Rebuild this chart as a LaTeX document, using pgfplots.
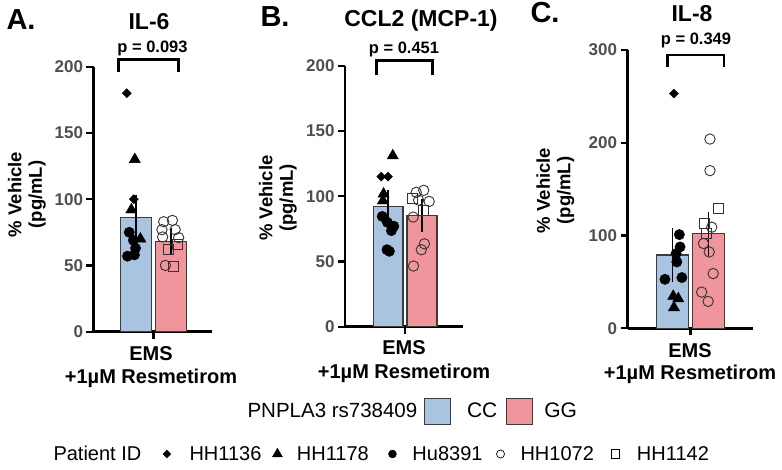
\documentclass[border=0pt]{standalone}
\usepackage{fontspec}
\setmainfont{Liberation Sans}
\usepackage{pgfplots}
\pgfplotsset{compat=1.18}

\definecolor{ccblue}{HTML}{A9C4E0}
\definecolor{ggpink}{HTML}{F0959B}
\definecolor{tickgray}{HTML}{4F4F4F}
\definecolor{edgegray}{HTML}{3C3C3C}
\newcommand{\fs}[1]{\fontsize{#1}{#1}\selectfont}

\pgfplotsset{
 panel/.style={
  scale only axis, anchor=south west,
  axis lines*=left,
  axis line style={line width=2.6pt, black},
  clip=false, ymin=0,
  xtick={0.5}, xticklabels={},
  tick align=outside,
  major tick length=7pt,
  every tick/.style={line width=2.2pt, black},
  yticklabel style={font=\bfseries\fs{17}, text=tickgray},
  /pgf/number format/assume math mode=true,
 },
 bar/.style={ybar, bar width=0.88, bar shift=0pt, draw=edgegray, line width=1.1pt},
 ebar/.style={draw=none, mark=none, forget plot,
   error bars/.cd, y dir=both, y explicit,
   error bar style={line width=1.6pt, draw=black},
   error mark options={mark size=8pt, line width=1.6pt, draw=black}},
 mdia/.style={only marks, mark=square*, mark size=3.2pt, mark options={rotate=45, draw=black, fill=black}},
 mtri/.style={only marks, mark=triangle*, mark size=6.5pt, mark options={draw=black, fill=black}},
 mcirc/.style={only marks, mark=*, mark size=5.2pt, mark options={draw=black, fill=black}},
 mocirc/.style={only marks, mark=o, mark size=5.2pt, mark options={draw=black!80, line width=0.9pt}},
 msq/.style={only marks, mark=square, mark size=5pt, mark options={draw=black!80, line width=0.9pt}},
 brk/.style={line width=2.8pt, black, mark=none},
 leg/.style={hide axis, scale only axis, width=1pt, height=1pt,
   xmin=0, xmax=1, ymin=0, ymax=1, anchor=south west,
   legend columns=-1,
   legend style={at={(0,0)}, anchor=west, draw=none, fill=none,
     inner sep=0pt, outer sep=0pt, nodes={inner sep=0pt, font=\fs{20}}}},
}

\begin{document}
\begin{tikzpicture}
\path[use as bounding box] (0,0) rectangle (782pt,469pt);

% ---------------- Panel A: IL-6
\begin{axis}[panel, at={(93.5pt,137.3pt)}, width=118pt, height=265pt,
  xmin=-1.227, xmax=2.164, ymax=200, ytick={0,50,100,150,200}]
\addplot[bar, fill=ccblue] coordinates {(0,86)};
\addplot[bar, fill=ggpink] coordinates {(1,68)};
\addplot[ebar] coordinates {(0,86) +- (0,11.5) (1,68) +- (0,4.3)};
\addplot[mdia] coordinates {(-0.27,180) (-0.07,100)};
\addplot[mtri] coordinates {(-0.04,130) (-0.14,92) (0.12,70)};
\addplot[mcirc] coordinates {(-0.2,75) (-0.08,69) (-0.02,63) (-0.25,57) (-0.05,58)};
\addplot[mocirc] coordinates {(0.79,83) (1.04,84) (0.74,77) (1.12,77) (0.76,71.5) (1.22,71) (0.84,50)};
\addplot[msq] coordinates {(0.94,62) (1.18,66) (1.08,49)};
\addplot[brk] coordinates {(-0.51,196) (-0.51,205.3) (1.22,205.3) (1.22,196)};
\end{axis}

% ---------------- Panel B: CCL2
\begin{axis}[panel, at={(345pt,142.3pt)}, width=118pt, height=261pt,
  xmin=-1.265, xmax=2.206, ymax=200, ytick={0,50,100,150,200}]
\addplot[bar, fill=ccblue] coordinates {(0,92)};
\addplot[bar, fill=ggpink] coordinates {(1,85.5)};
\addplot[ebar] coordinates {(0,92) +- (0,7) (1,85.5) +- (0,6.5)};
\addplot[mdia] coordinates {(-0.2,115) (0.0,115)};
\addplot[mtri] coordinates {(0.14,131) (-0.13,101.7) (-0.15,96.5)};
\addplot[mcirc] coordinates {(-0.17,84.5) (-0.02,80) (0.17,77) (0.1,73.6) (-0.03,59) (0.04,57.8)};
\addplot[mocirc] coordinates {(0.83,103) (1.05,104.5) (0.9,97) (1.21,96) (0.74,84) (1.07,63.5) (0.98,59) (0.75,46.5)};
\addplot[msq] coordinates {(0.73,98) (1.05,89)};
\addplot[brk] coordinates {(-0.34,193) (-0.34,203.8) (1.31,203.8) (1.31,193)};
\end{axis}

% ---------------- Panel C: IL-8
\begin{axis}[panel, at={(627.5pt,140.7pt)}, width=125.5pt, height=278.3pt,
  xmin=-1.25, xmax=2.236, ymax=300, ytick={0,100,200,300}]
\addplot[bar, fill=ccblue] coordinates {(0,79)};
\addplot[bar, fill=ggpink] coordinates {(1,102)};
\addplot[ebar] coordinates {(0,79) +- (0,20) (1,102) +- (0,15)};
\addplot[mdia] coordinates {(0.04,253)};
\addplot[mtri] coordinates {(0.02,34.5) (0.16,32) (0.04,22.3)};
\addplot[mcirc] coordinates {(0.19,101) (0.21,87.7) (0.1,80.6) (0.12,71.5) (-0.21,52.8) (0.26,54.7)};
\addplot[mocirc] coordinates {(1.04,204) (1.04,170) (1.09,109) (0.86,91.4) (1.02,82.3) (1.13,59) (0.81,39) (0.99,29)};
\addplot[msq] coordinates {(1.27,129) (0.9,113) (0.95,102)};
\addplot[brk] coordinates {(-0.15,282) (-0.15,294.6) (1.43,294.6) (1.43,282)};
\end{axis}

% ---------------- legend row 1
\node[anchor=base west, font=\fs{20.5}] at (244pt,52pt) {PNPLA3 rs738409};
\begin{axis}[leg, at={(424pt,58pt)},
  legend style={/tikz/column 1/.style={column sep=16pt},
                /tikz/column 2/.style={column sep=9pt},
                /tikz/column 3/.style={column sep=11pt},
                nodes={font=\fs{21}}}]
\addlegendimage{legend image code/.code={\draw[fill=ccblue, draw=edgegray, line width=1pt] (0pt,-13pt) rectangle (26pt,13pt);}}
\addlegendentry{CC}
\addlegendimage{legend image code/.code={\draw[fill=ggpink, draw=edgegray, line width=1pt] (0pt,-13pt) rectangle (26pt,13pt);}}
\addlegendentry{GG}
\end{axis}

% ---------------- legend row 2
\node[anchor=base west, font=\fs{20}] at (50pt,9pt) {Patient ID};
\begin{axis}[leg, at={(162.8pt,15pt)},
  legend style={/tikz/column 1/.style={column sep=18.8pt},
                /tikz/column 2/.style={column sep=11pt},
                /tikz/column 3/.style={column sep=14.5pt},
                /tikz/column 4/.style={column sep=19.6pt},
                /tikz/column 5/.style={column sep=16pt},
                /tikz/column 6/.style={column sep=14pt},
                /tikz/column 7/.style={column sep=16pt},
                /tikz/column 8/.style={column sep=17pt},
                /tikz/column 9/.style={column sep=17.5pt}}]
\addlegendimage{legend image code/.code={\draw plot[only marks, mark=square*, mark size=2.8pt, mark options={rotate=45, draw=black, fill=black}] coordinates {(0pt,0pt)};}}
\addlegendentry{HH1136}
\addlegendimage{legend image code/.code={\draw plot[only marks, mark=triangle*, mark size=5.8pt, mark options={draw=black, fill=black}] coordinates {(0pt,0pt)};}}
\addlegendentry{HH1178}
\addlegendimage{legend image code/.code={\draw plot[only marks, mark=*, mark size=4pt, mark options={draw=black, fill=black}] coordinates {(0pt,0pt)};}}
\addlegendentry{Hu8391}
\addlegendimage{legend image code/.code={\draw plot[only marks, mark=o, mark size=4pt, mark options={draw=black, line width=0.7pt}] coordinates {(0pt,0pt)};}}
\addlegendentry{HH1072}
\addlegendimage{legend image code/.code={\draw plot[only marks, mark=square, mark size=4.3pt, mark options={draw=black, line width=0.7pt}] coordinates {(0pt,0pt)};}}
\addlegendentry{HH1142}
\end{axis}

% ---------------- titles and labels
\node[anchor=base west, font=\bfseries\fs{29}] at (3pt,439pt) {A.};
\node[anchor=base, font=\bfseries\fs{23}] at (149pt,439pt) {IL-6};
\node[anchor=base west, font=\bfseries\fs{29}] at (257pt,442.5pt) {B.};
\node[anchor=base, font=\bfseries\fs{23}] at (421pt,442.5pt) {CCL2 (MCP-1)};
\node[anchor=base west, font=\bfseries\fs{29}] at (527pt,446pt) {C.};
\node[anchor=base, font=\bfseries\fs{23}] at (692pt,447pt) {IL-8};

\node[anchor=base, font=\bfseries\fs{16.5}] at (152.5pt,416pt) {p = 0.093};
\node[anchor=base, font=\bfseries\fs{16.5}] at (404pt,415pt) {p = 0.451};
\node[anchor=base, font=\bfseries\fs{16.5}] at (696pt,424pt) {p = 0.349};

\node[rotate=90, align=center, font=\bfseries\fontsize{18.5}{20.5}\selectfont] at (27pt,274.5pt) {\% Vehicle\\(pg/mL)};
\node[rotate=90, align=center, font=\bfseries\fontsize{18.5}{20.5}\selectfont] at (278pt,271pt) {\% Vehicle\\(pg/mL)};
\node[rotate=90, align=center, font=\bfseries\fontsize{18.5}{20.5}\selectfont] at (555.5pt,278.5pt) {\% Vehicle\\(pg/mL)};

\node[anchor=base, font=\bfseries\fs{20}] at (151pt,109pt) {EMS};
\node[anchor=base, font=\bfseries\fs{20}] at (151pt,86pt) {+1µM Resmetirom};
\node[anchor=base, font=\bfseries\fs{20}] at (404pt,114pt) {EMS};
\node[anchor=base, font=\bfseries\fs{20}] at (404pt,91pt) {+1µM Resmetirom};
\node[anchor=base, font=\bfseries\fs{20}] at (690pt,112pt) {EMS};
\node[anchor=base, font=\bfseries\fs{20}] at (690pt,89pt) {+1µM Resmetirom};
\end{tikzpicture}
\end{document}
